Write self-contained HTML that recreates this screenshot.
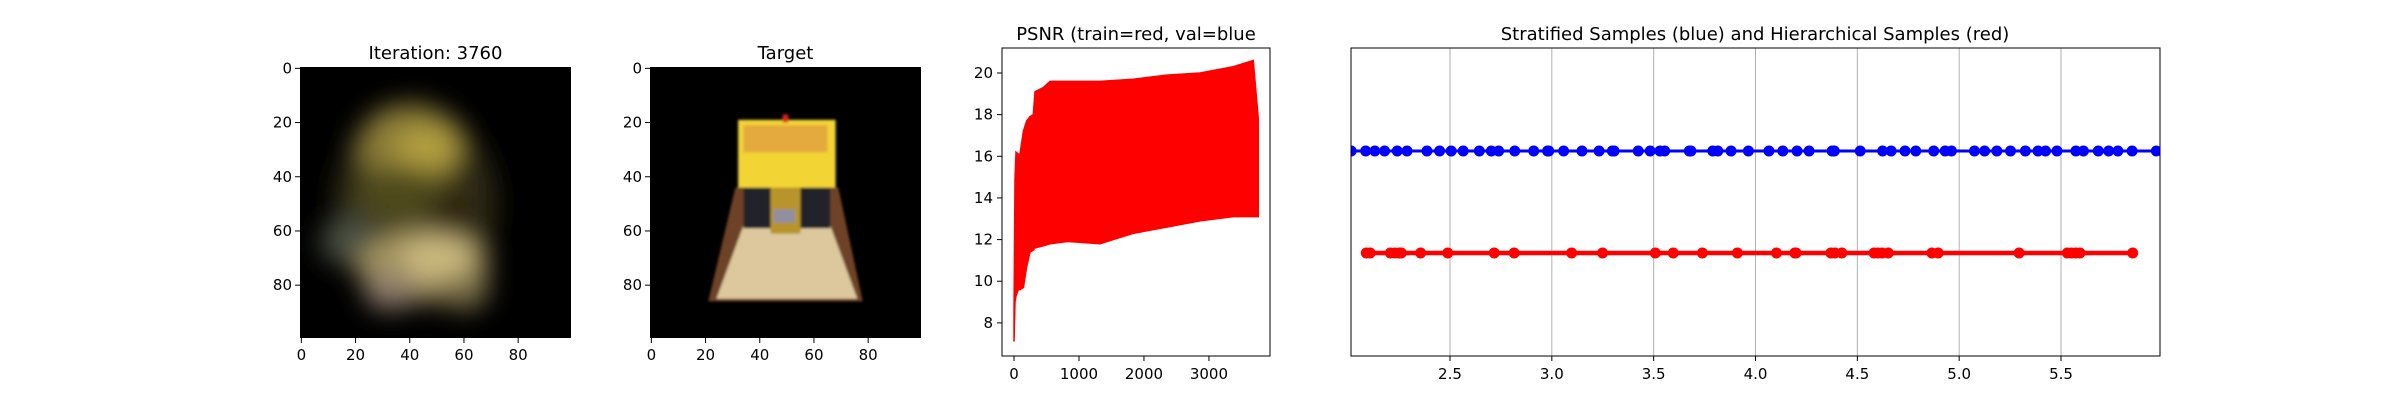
<!DOCTYPE html>
<html><head><meta charset="utf-8"><style>
html,body{margin:0;padding:0;background:#fff;}
svg{display:block;font-family:"DejaVu Sans","Liberation Sans",sans-serif;}
</style></head><body>
<svg id="fig" width="2400" height="400" viewBox="0 0 2400 400" xmlns="http://www.w3.org/2000/svg">
<defs>
<filter id="blur8" x="-50%" y="-50%" width="200%" height="200%"><feGaussianBlur stdDeviation="13"/></filter>
<filter id="blur1"><feGaussianBlur stdDeviation="1.2"/></filter>
<clipPath id="clip1"><rect x="300" y="67" width="271" height="271"/></clipPath>
<clipPath id="clip2"><rect x="650" y="67" width="271" height="271"/></clipPath>
<clipPath id="clip3"><rect x="1002" y="48" width="268" height="308"/></clipPath>
<clipPath id="clip4"><rect x="1351" y="48" width="809" height="308"/></clipPath>
</defs>
<g id="root"></g>
</svg>
<script>
// ---- PSNR data (envelope of training curve) ----
const psnrIters = [0, 15, 31, 67, 92, 144, 195, 246, 297, 323, 451, 554, 810, 862, 1323, 1836, 2349, 2862, 3374, 3682, 3760];
const psnrUpper = [8.6, 14.9, 16.2, 16.1, 16.1, 17.2, 17.7, 17.9, 18.0, 19.1, 19.3, 19.6, 19.6, 19.6, 19.6, 19.7, 19.9, 20.0, 20.3, 20.6, 17.8];
const psnrLower = [7.1, 9.0, 9.3, 9.6, 9.6, 9.7, 10.7, 11.4, 11.5, 11.6, 11.7, 11.8, 11.9, 11.9, 11.8, 12.3, 12.6, 12.9, 13.1, 13.1, 13.1];
const psnrXTicks = [0, 1000, 2000, 3000];
const psnrYTicks = [8, 10, 12, 14, 16, 18, 20];
// ---- samples ----
const stratified = [2.015,2.086,2.131,2.179,2.241,2.289,2.387,2.449,2.506,2.565,2.644,2.703,2.739,2.818,2.911,2.979,2.985,3.058,3.148,3.232,3.297,3.306,3.424,3.483,3.531,3.554,3.675,3.683,3.790,3.815,3.880,3.965,4.066,4.134,4.204,4.263,4.376,4.387,4.514,4.624,4.666,4.734,4.787,4.875,4.931,4.962,5.075,5.125,5.185,5.252,5.325,5.387,5.424,5.480,5.573,5.610,5.683,5.734,5.779,5.849,5.968];
const hierarchical = [2.089,2.108,2.207,2.230,2.249,2.261,2.356,2.489,2.717,2.815,3.097,3.249,3.508,3.596,3.739,3.911,4.103,4.193,4.199,4.370,4.390,4.424,4.582,4.601,4.621,4.652,4.866,4.897,5.294,5.531,5.551,5.573,5.593,5.852];
const sampleTicks = ["2.5","3.0","3.5","4.0","4.5","5.0","5.5"];
const imgTicks = [0, 20, 40, 60, 80];

const NS = "http://www.w3.org/2000/svg";
const root = document.getElementById('root');
function mk(tag, attrs, parent, txt){
  const e = document.createElementNS(NS, tag);
  for (const k in attrs) e.setAttribute(k, attrs[k]);
  if (txt !== undefined) e.textContent = txt;
  (parent || root).appendChild(e);
  return e;
}
function lin(d0,d1,r0,r1){ return v => r0 + (v-d0)/(d1-d0)*(r1-r0); }

// ---------- image panels ----------
function imagePanel(x0, title, name, drawFn){
  const g = mk('g', {});
  
  
  const sx = lin(-0.5, 99.5, x0, x0+271), sy = lin(-0.5, 99.5, 67, 338);
  const t = mk('text', {x: x0+135.5, y: 59, 'text-anchor':'middle', 'font-size':18, fill:'#000'}, g, title);
  
  
  const content = mk('g', {'clip-path': 'url(#clip'+(x0<600?1:2)+')'}, g);
  mk('rect', {x:x0, y:67, width:271, height:271, fill:'#000'}, content);
  drawFn(content, sx, sy);
  imgTicks.forEach(v => {
    mk('line', {x1:sx(v), x2:sx(v), y1:338, y2:343, stroke:'#000', 'stroke-width':1}, g);
    const tx = mk('text', {x:sx(v), y:360, 'text-anchor':'middle', 'font-size':15}, g, String(v));
    
    
    mk('line', {x1:x0-5, x2:x0, y1:sy(v), y2:sy(v), stroke:'#000', 'stroke-width':1}, g);
    const ty = mk('text', {x:x0-8, y:sy(v)+5, 'text-anchor':'end', 'font-size':15}, g, String(v));
    
    
  });
}
imagePanel(300, 'Iteration: 3760', 'render-panel', (g, sx, sy) => {
  const b = mk('g', {filter:'url(#blur8)'}, g);
  const u = 2.71;
  mk('ellipse', {cx:sx(42), cy:sy(50), rx:30*u, ry:36*u, fill:'#2e2a14'}, b);
  mk('ellipse', {cx:sx(40), cy:sy(28), rx:19*u, ry:15*u, fill:'#8a7c38'}, b);
  mk('ellipse', {cx:sx(46), cy:sy(30), rx:11*u, ry:8*u, fill:'#b4a040'}, b);
  mk('ellipse', {cx:sx(38), cy:sy(47), rx:18*u, ry:11*u, fill:'#4e4a1e'}, b);
  mk('ellipse', {cx:sx(55), cy:sy(52), rx:8*u, ry:6*u, fill:'#2e2410'}, b);
  mk('ellipse', {cx:sx(18), cy:sy(64), rx:11*u, ry:9*u, fill:'#4a5042'}, b);
  mk('ellipse', {cx:sx(45), cy:sy(73), rx:24*u, ry:13*u, fill:'#a49460'}, b);
  mk('ellipse', {cx:sx(50), cy:sy(70), rx:13*u, ry:7*u, fill:'#cdbb80'}, b);
  mk('ellipse', {cx:sx(33), cy:sy(82), rx:10*u, ry:7*u, fill:'#8c7c6c'}, b);
  mk('ellipse', {cx:sx(60), cy:sy(82), rx:9*u, ry:7*u, fill:'#7c7048'}, b);
});
imagePanel(650, 'Target', 'target-panel', (g, sx, sy) => {
  const b = mk('g', {filter:'url(#blur1)'}, g);
  mk('polygon', {points:[[31,44],[69,44],[78,86],[21,86]].map(p=>sx(p[0])+','+sy(p[1])).join(' '), fill:'#6e4228'}, b);
  mk('polygon', {points:[[34,58],[66,58],[76,85],[24,85]].map(p=>sx(p[0])+','+sy(p[1])).join(' '), fill:'#dcc89c'}, b);
  mk('rect', {x:sx(34), y:sy(42), width:32*2.71, height:17*2.71, fill:'#22242c'}, b);
  mk('rect', {x:sx(44), y:sy(42), width:11*2.71, height:19*2.71, fill:'#b8942c'}, b);
  mk('rect', {x:sx(45), y:sy(52), width:8*2.71, height:5*2.71, fill:'#9090a0'}, b);
  mk('rect', {x:sx(32), y:sy(19), width:36*2.71, height:25*2.71, fill:'#f2d436'}, b);
  mk('rect', {x:sx(34), y:sy(21), width:31*2.71, height:10*2.71, fill:'#e4aa3c'}, b);
  mk('rect', {x:sx(48.5), y:sy(17), width:2*2.71, height:3*2.71, fill:'#e02020'}, b);
});

// ---------- PSNR panel ----------
(function(){
  const g = mk('g', {});
  
  
  const x = lin(-185, 3940, 1002, 1270), y = lin(6.41, 21.2, 356, 48);
  const t = mk('text', {x:1136, y:40, 'text-anchor':'middle', 'font-size':18}, g, 'PSNR (train=red, val=blue');
  
  
  const c = mk('g', {'clip-path':'url(#clip3)'}, g);
  let pts = psnrIters.map((it,i)=>x(it)+','+y(psnrUpper[i]));
  for (let i=psnrIters.length-1;i>=0;i--) pts.push(x(psnrIters[i])+','+y(psnrLower[i]));
  const area = mk('polygon', {points:pts.join(' '), fill:'#ff0000', stroke:'#ff0000', 'stroke-width':1.5}, c);
  
  
  mk('rect', {x:1002, y:48, width:268, height:308, fill:'none', stroke:'#000', 'stroke-width':1}, g);
  psnrXTicks.forEach(v => {
    mk('line', {x1:x(v), x2:x(v), y1:356, y2:361, stroke:'#000'}, g);
    const tx = mk('text', {x:x(v), y:379, 'text-anchor':'middle', 'font-size':15}, g, String(v));
    
    
  });
  psnrYTicks.forEach(v => {
    mk('line', {x1:997, x2:1002, y1:y(v), y2:y(v), stroke:'#000'}, g);
    const ty = mk('text', {x:993, y:y(v)+5, 'text-anchor':'end', 'font-size':15}, g, String(v));
    
    
  });
})();

// ---------- samples panel ----------
(function(){
  const g = mk('g', {});
  
  
  const x = lin(2.014, 5.986, 1351, 2160);
  const yB = 151, yR = 253;
  const t = mk('text', {x:1755, y:40, 'text-anchor':'middle', 'font-size':18}, g, 'Stratified  Samples (blue) and Hierarchical Samples (red)');
  
  
  sampleTicks.forEach(s => {
    const v = parseFloat(s);
    const gl = mk('line', {x1:x(v), x2:x(v), y1:48, y2:356, stroke:'#b0b0b0', 'stroke-width':1}, g);
    
    
    mk('line', {x1:x(v), x2:x(v), y1:356, y2:361, stroke:'#000'}, g);
    const tx = mk('text', {x:x(v), y:379, 'text-anchor':'middle', 'font-size':15}, g, s);
    
    
  });
  const c = mk('g', {'clip-path':'url(#clip4)'}, g);
  const bl = mk('polyline', {points:stratified.map(v=>x(v)+','+yB).join(' '), fill:'none', stroke:'#0000ff', 'stroke-width':3}, c);
  
  
  stratified.forEach(v => {
    const p = mk('circle', {cx:x(v), cy:yB, r:5.5, fill:'#0000ff'}, c);
    
    
  });
  const rl = mk('polyline', {points:hierarchical.map(v=>x(v)+','+yR).join(' '), fill:'none', stroke:'#ff0000', 'stroke-width':4.5}, c);
  
  
  hierarchical.forEach(v => {
    const p = mk('circle', {cx:x(v), cy:yR, r:5.5, fill:'#ff0000'}, c);
    
    
  });
  mk('rect', {x:1351, y:48, width:809, height:308, fill:'none', stroke:'#000', 'stroke-width':1}, g);
})();
</script>
</body></html>
